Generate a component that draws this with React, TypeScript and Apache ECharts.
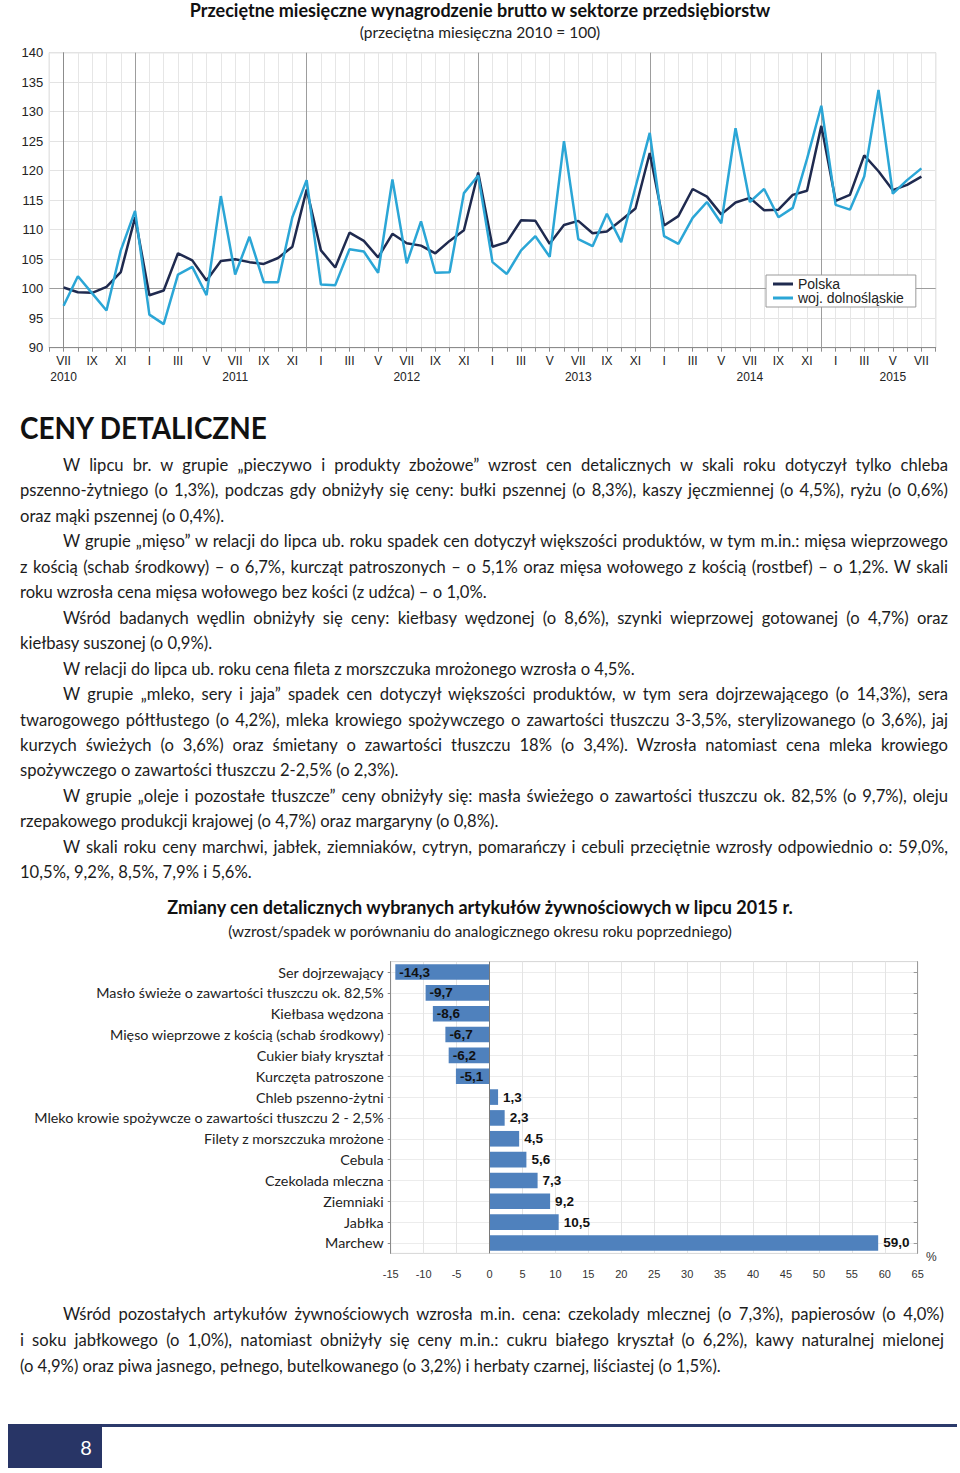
import React, { useEffect, useRef } from "react";
import * as echarts from "echarts";

// ---------- DATA ----------
const romanMonths = ["I", "II", "III", "IV", "V", "VI", "VII", "VIII", "IX", "X", "XI", "XII"];
const firstMonthIndex = 6; // VII 2010
const yearLabels = ["2010", "2011", "2012", "2013", "2014", "2015"];
const yearLabelMonthIndex = [0, 12, 24, 36, 48, 58];
const seriesNames = ["Polska", "woj. dolnośląskie"];

const polska = [
  100.2, 99.4, 99.3, 100.3, 102.8, 112.1, 98.9, 99.7, 106.0, 104.8, 101.4, 104.7,
  105.0, 104.5, 104.2, 105.2, 107.1, 116.8, 106.5, 103.6, 109.5, 108.1, 105.3, 109.3,
  107.7, 107.3, 106.0, 108.1, 109.9, 119.7, 107.1, 107.9, 111.6, 111.5, 107.6, 110.8,
  111.5, 109.4, 109.7, 111.6, 113.6, 123.0, 110.7, 112.3, 116.9, 115.6, 112.6, 114.6,
  115.4, 113.3, 113.4, 115.9, 116.6, 127.6, 114.9, 115.9, 122.6, 119.9, 116.7, 117.6,
  119.0,
];
const dolnoslaskie = [
  97.1, 102.1, 99.2, 96.3, 106.5, 113.2, 95.6, 94.0, 102.4, 103.7, 98.9, 115.7,
  102.4, 108.8, 101.1, 101.1, 112.1, 118.4, 100.7, 100.6, 106.7, 106.3, 102.7, 118.5,
  104.3, 111.4, 102.7, 102.8, 116.2, 119.2, 104.5, 102.5, 106.5, 108.9, 105.4, 125.0,
  108.4, 107.2, 112.7, 107.9, 117.2, 126.4, 108.9, 107.6, 112.0, 114.7, 111.1, 127.2,
  114.7, 116.9, 112.1, 113.7, 122.0, 131.0, 114.2, 113.4, 119.0, 133.7, 116.1, 118.4,
  120.4,
];
const yearBoundaryMonths = [5, 17, 29, 41, 53];

const barCategories = [
  "Ser dojrzewający",
  "Masło świeże o zawartości tłuszczu ok. 82,5%",
  "Kiełbasa wędzona",
  "Mięso wieprzowe z kością (schab środkowy)",
  "Cukier biały kryształ",
  "Kurczęta patroszone",
  "Chleb pszenno-żytni",
  "Mleko krowie spożywcze o zawartości tłuszczu 2 - 2,5%",
  "Filety z morszczuka mrożone",
  "Cebula",
  "Czekolada mleczna",
  "Ziemniaki",
  "Jabłka",
  "Marchew",
];
const barValues = [-14.3, -9.7, -8.6, -6.7, -6.2, -5.1, 1.3, 2.3, 4.5, 5.6, 7.3, 9.2, 10.5, 59.0];

const proseLines = [
  { t: "W lipcu br. w grupie „pieczywo i produkty zbożowe” wzrost cen detalicznych w skali roku dotyczył tylko chleba", i: true, l: false },
  { t: "pszenno-żytniego (o 1,3%), podczas gdy obniżyły się ceny: bułki pszennej (o 8,3%), kaszy jęczmiennej (o 4,5%), ryżu (o 0,6%)", i: false, l: false },
  { t: "oraz mąki pszennej (o 0,4%).", i: false, l: true },
  { t: "W grupie „mięso” w relacji do lipca ub. roku spadek cen dotyczył większości produktów, w tym m.in.: mięsa wieprzowego", i: true, l: false },
  { t: "z kością (schab środkowy) – o 6,7%, kurcząt patroszonych – o 5,1% oraz mięsa wołowego z kością (rostbef) – o 1,2%. W skali", i: false, l: false },
  { t: "roku wzrosła cena mięsa wołowego bez kości (z udźca) – o 1,0%.", i: false, l: true },
  { t: "Wśród badanych wędlin obniżyły się ceny: kiełbasy wędzonej (o 8,6%), szynki wieprzowej gotowanej (o 4,7%) oraz", i: true, l: false },
  { t: "kiełbasy suszonej (o 0,9%).", i: false, l: true },
  { t: "W relacji do lipca ub. roku cena fileta z morszczuka mrożonego wzrosła o 4,5%.", i: true, l: true },
  { t: "W grupie „mleko, sery i jaja” spadek cen dotyczył większości produktów, w tym sera dojrzewającego (o 14,3%), sera", i: true, l: false },
  { t: "twarogowego półtłustego (o 4,2%), mleka krowiego spożywczego o zawartości tłuszczu 3-3,5%, sterylizowanego (o 3,6%), jaj", i: false, l: false },
  { t: "kurzych świeżych (o 3,6%) oraz śmietany o zawartości tłuszczu 18% (o 3,4%). Wzrosła natomiast cena mleka krowiego", i: false, l: false },
  { t: "spożywczego o zawartości tłuszczu 2-2,5% (o 2,3%).", i: false, l: true },
  { t: "W grupie „oleje i pozostałe tłuszcze” ceny obniżyły się: masła świeżego o zawartości tłuszczu ok. 82,5% (o 9,7%), oleju", i: true, l: false },
  { t: "rzepakowego produkcji krajowej (o 4,7%) oraz margaryny (o 0,8%).", i: false, l: true },
  { t: "W skali roku ceny marchwi, jabłek, ziemniaków, cytryn, pomarańczy i cebuli przeciętnie wzrosły odpowiednio o: 59,0%,", i: true, l: false },
  { t: "10,5%, 9,2%, 8,5%, 7,9% i 5,6%.", i: false, l: true },
];

const closingLines = [
  { t: "Wśród pozostałych artykułów żywnościowych wzrosła m.in. cena: czekolady mlecznej (o 7,3%), papierosów (o 4,0%)", i: true, l: false },
  { t: "i soku jabłkowego (o 1,0%), natomiast obniżyły się ceny m.in.: cukru białego kryształ (o 6,2%), kawy naturalnej mielonej", i: false, l: false },
  { t: "(o 4,9%) oraz piwa jasnego, pełnego, butelkowanego (o 3,2%) i herbaty czarnej, liściastej (o 1,5%).", i: false, l: true },
];

const lineTitle = "Przeciętne miesięczne wynagrodzenie brutto w sektorze przedsiębiorstw";
const lineSubtitle = "(przeciętna miesięczna 2010 = 100)";
const barTitle = "Zmiany cen detalicznych wybranych artykułów żywnościowych w lipcu 2015 r.";
const barSubtitle = "(wzrost/spadek w porównaniu do analogicznego okresu roku poprzedniego)";

// ---------- HELPERS ----------
const monthCount = polska.length;
const tickLabels: string[] = [];
for (let i = 0; i < monthCount; i++) {
  const m = (firstMonthIndex + i) % 12;
  const yi = yearLabelMonthIndex.indexOf(i);
  const month = i % 2 === 0 ? romanMonths[m] : "";
  tickLabels.push(yi >= 0 ? month + "\n" + yearLabels[yi] : month);
}

const CAL = "Lato, 'Open Sans', sans-serif";
const ARIAL = "'Liberation Sans', Arial, sans-serif";

function LineChart() {
  const ref = useRef<HTMLDivElement>(null);
  useEffect(() => {
    const chart = echarts.init(ref.current!, null, { renderer: "svg" });
    chart.setOption({
      animation: false,
      title: [
        {
          text: lineTitle,
          left: "center",
          top: -4,
          textStyle: { fontFamily: CAL, fontWeight: "bold", fontSize: 18, color: "#111" },
        },
        {
          text: lineSubtitle,
          left: "center",
          top: 19,
          textStyle: { fontFamily: CAL, fontWeight: "normal", fontSize: 15.5, color: "#222" },
        },
      ],
      grid: { left: 49.3, top: 52.7, width: 886.4, height: 295, show: true, borderColor: "#b8b8b8", borderWidth: 1 },
      legend: {
        left: 766,
        top: 275,
        z: 10,
        orient: "vertical",
        backgroundColor: "#fff",
        borderColor: "#9a9a9a",
        borderWidth: 1,
        padding: [2, 12, 2, 7],
        itemGap: 0,
        itemWidth: 20,
        itemHeight: 3,
        icon: "rect",
        textStyle: { fontFamily: ARIAL, fontSize: 14, color: "#222", padding: [0, 0, 0, 0] },
        data: seriesNames,
      },
      xAxis: {
        type: "value",
        min: -1,
        max: monthCount,
        interval: 1,
        axisLine: { show: true, lineStyle: { color: "#8c8c8c" } },
        axisTick: { show: true, length: 4, lineStyle: { color: "#8c8c8c" } },
        splitLine: { show: true, lineStyle: { color: "#e6e6e6", width: 1 } },
        axisLabel: {
          margin: 5,
          fontFamily: ARIAL,
          fontSize: 12,
          color: "#222",
          lineHeight: 16,
          formatter: (v: number) => (v >= 0 && v < monthCount ? tickLabels[v] : ""),
        },
      },
      yAxis: {
        type: "value",
        min: 90,
        max: 140,
        interval: 5,
        axisLine: { show: true, lineStyle: { color: "#8c8c8c" } },
        axisTick: { show: false },
        splitLine: { show: true, lineStyle: { color: "#e3e3e3" } },
        axisLabel: { margin: 6, fontFamily: ARIAL, fontSize: 13, color: "#222" },
      },
      series: [
        {
          type: "line",
          name: "_ref",
          data: [],
          z: 1,
          silent: true,
          markLine: {
            z: 1,
            silent: true,
            symbol: "none",
            label: { show: false },
            lineStyle: { color: "#9d9d9d", width: 1, type: "solid" },
            data: [...yearBoundaryMonths.map((m) => ({ xAxis: m })), { yAxis: 100 }],
          },
        },
        {
          type: "line",
          name: seriesNames[0],
          data: polska.map((v, i) => [i, v]),
          showSymbol: false,
          symbol: "none",
          z: 3,
          itemStyle: { color: "#1f2a4f" },
          lineStyle: { color: "#1f2a4f", width: 2.5 },
        },
        {
          type: "line",
          name: seriesNames[1],
          data: dolnoslaskie.map((v, i) => [i, v]),
          showSymbol: false,
          symbol: "none",
          z: 4,
          itemStyle: { color: "#2ba6d6" },
          lineStyle: { color: "#2ba6d6", width: 2.5 },
        },
      ],
    });
    return () => chart.dispose();
  }, []);
  return <div ref={ref} style={{ position: "absolute", left: 0, top: 0, width: 960, height: 395 }} />;
}

function BarChart() {
  const ref = useRef<HTMLDivElement>(null);
  useEffect(() => {
    const chart = echarts.init(ref.current!, null, { renderer: "svg" });
    const off = 890;
    const fmt = (v: number) => v.toFixed(1).replace(".", ",");
    chart.setOption({
      animation: false,
      title: [
        {
          text: barTitle,
          left: "center",
          top: 909 - off - 16,
          textStyle: { fontFamily: CAL, fontWeight: "bold", fontSize: 18, color: "#111" },
        },
        {
          text: barSubtitle,
          left: "center",
          top: 932 - off - 14,
          textStyle: { fontFamily: CAL, fontWeight: "normal", fontSize: 15.3, color: "#222" },
        },
      ],
      grid: {
        left: 390.7,
        top: 961.6 - off,
        width: 527,
        height: 291.8,
        show: true,
        borderColor: "#d6d6d6",
        borderWidth: 1,
      },
      graphic: [
        {
          type: "text",
          left: 926,
          top: 1251 - off,
          style: { text: "%", fontFamily: ARIAL, fontSize: 12, fill: "#333" },
        },
      ],
      xAxis: {
        type: "value",
        min: -15,
        max: 65,
        interval: 5,
        axisLine: { show: false },
        axisTick: { show: false },
        splitLine: { show: true, lineStyle: { color: "#e4e4e4" } },
        axisLabel: { margin: 15, fontFamily: ARIAL, fontSize: 11, color: "#333" },
      },
      yAxis: [
        {
          type: "category",
          inverse: true,
          data: barCategories,
          axisLine: { show: true, onZero: false, lineStyle: { color: "#8a8a8a" } },
          axisTick: { show: true, alignWithLabel: true, length: 3, lineStyle: { color: "#8a8a8a" } },
          splitLine: { show: true, alignWithLabel: true, lineStyle: { color: "#ececec" } },
          axisLabel: { margin: 7, fontFamily: CAL, fontSize: 14.3, color: "#222" },
        },
        {
          type: "category",
          inverse: true,
          position: "right",
          data: barCategories,
          axisLine: { show: true, onZero: false, lineStyle: { color: "#9a9a9a" } },
          axisTick: { show: true, inside: true, alignWithLabel: true, length: 4, lineStyle: { color: "#9a9a9a" } },
          axisLabel: { show: false },
          splitLine: { show: false },
        },
      ],
      series: [
        {
          type: "bar",
          yAxisIndex: 0,
          barCategoryGap: "25%",
          itemStyle: { color: "#4f81bd" },
          data: barValues.map((v) => ({
            value: v,
            label: {
              show: true,
              position: v < 0 ? "insideLeft" : "right",
              distance: v < 0 ? 4 : 5,
              formatter: () => fmt(v),
              fontFamily: ARIAL,
              fontWeight: "bold",
              fontSize: 13.5,
              color: "#111",
            },
          })),
          markLine: {
            silent: true,
            symbol: "none",
            label: { show: false },
            lineStyle: { color: "#7a7a7a", width: 1, type: "solid" },
            data: [{ xAxis: 0 }],
          },
        },
      ],
    });
    return () => chart.dispose();
  }, []);
  return <div ref={ref} style={{ position: "absolute", left: 0, top: 890, width: 960, height: 410 }} />;
}

function Prose({ lines, startY, step, right }: { lines: { t: string; i: boolean; l: boolean }[]; startY: number; step: number; right: number }) {
  return (
    <>
      {lines.map((ln, k) => {
        const left = ln.i ? 63 : 20;
        const cy = startY + k * step;
        return (
          <div
            key={k}
            style={{
              position: "absolute",
              left,
              top: cy - 12,
              width: right - left,
              height: 24,
              lineHeight: "24px",
              fontFamily: CAL,
              fontSize: 16.6,
              color: "#1c1c1c",
              textAlign: ln.l ? "left" : "justify",
              textAlignLast: ln.l ? "left" : "justify",
            }}
          >
            {ln.t}
          </div>
        );
      })}
    </>
  );
}

export default function App() {
  return (
    <div style={{ position: "absolute", left: 0, top: 0, width: 960, height: 1473, background: "#fff", overflow: "hidden" }}>
      <LineChart />
      <div
        style={{
          position: "absolute",
          left: 20,
          top: 427 - 20,
          height: 40,
          lineHeight: "40px",
          fontFamily: CAL,
          fontWeight: 700,
          fontSize: 31,
          color: "#111",
          whiteSpace: "nowrap",
          transform: "scaleX(0.9)",
          transformOrigin: "left center",
        }}
      >
        CENY DETALICZNE
      </div>
      <Prose lines={proseLines} startY={465} step={25.45} right={948} />
      <BarChart />
      <Prose lines={closingLines} startY={1314} step={26} right={944} />
      <div style={{ position: "absolute", left: 8, top: 1424, width: 94, height: 44, background: "#283566" }} />
      <div style={{ position: "absolute", left: 102, top: 1424, width: 855, height: 3, background: "#2b3a6b" }} />
      <div
        style={{
          position: "absolute",
          left: 76,
          top: 1434,
          width: 20,
          height: 26,
          lineHeight: "26px",
          textAlign: "center",
          fontFamily: CAL,
          fontSize: 20,
          color: "#fff",
        }}
      >
        8
      </div>
    </div>
  );
}
